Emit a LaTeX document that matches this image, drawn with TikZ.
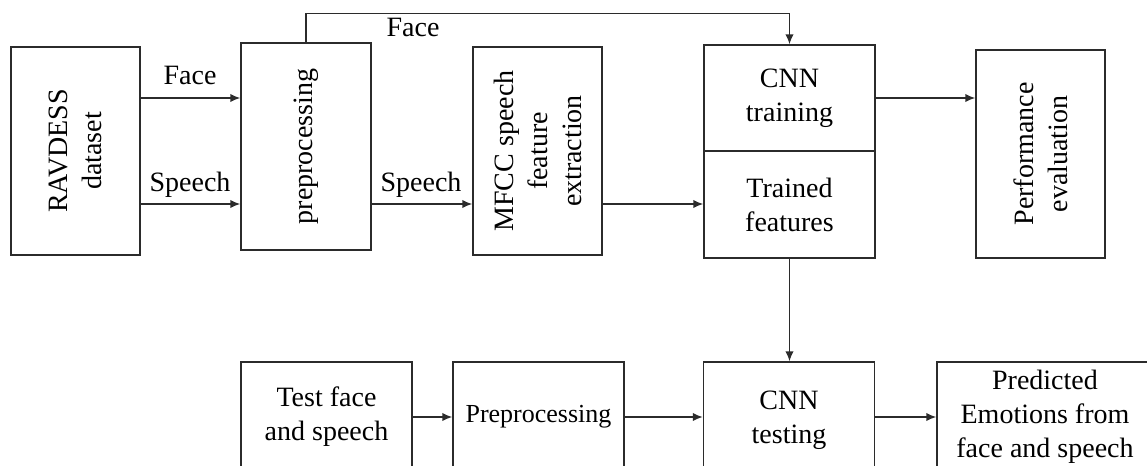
\documentclass[tikz,border=0pt]{standalone}
\usepackage{fontspec}
\setmainfont{Liberation Serif}
\usetikzlibrary{arrows.meta,calc}
\definecolor{ink}{HTML}{2B2B2B}
\tikzset{
  box/.style={draw=ink, line width=0.7pt, inner sep=0pt, fill=white},
  txt/.style={align=center, inner sep=0pt, font=\fontsize{14}{17}\selectfont, text=black},
  lbl/.style={inner sep=0pt, font=\fontsize{14}{17}\selectfont, text=black},
  arr/.style={draw=ink, line width=0.7pt, -{Latex[length=5pt,width=4.2pt]}},
  conn/.style={draw=ink, line width=0.7pt}
}
\begin{document}
\begin{tikzpicture}[x=0.5pt,y=-0.5pt]
\useasboundingbox (0,0) rectangle (1147,466);
\clip (0,0) rectangle (1147,466);
% top row boxes
\node[box, minimum width=64.5pt, minimum height=104pt] (rav) at (75.5,151) {};
\node[txt, rotate=90] (ravt) at (rav) {RAVDESS\\dataset};
\node[box, minimum width=65pt, minimum height=103.5pt] (pre) at (306,146.5) {};
\node[txt, rotate=90] (pret) at (pre) {preprocessing};
\node[box, minimum width=64.5pt, minimum height=104pt] (mfcc) at (537.5,151) {};
\node[txt, rotate=90] (mfcct) at (mfcc) {MFCC speech\\feature\\extraction};
\node[box, minimum width=85.5pt, minimum height=53pt] (cnntr) at (789.5,98) {};
\node[txt] (cnntrt) at (cnntr) {CNN\\training};
\node[box, minimum width=85.5pt, minimum height=53.5pt] (trf) at (789.5,204.5) {};
\node[txt] (trft) at (trf) {Trained\\features};
\node[box, minimum width=64.5pt, minimum height=104pt] (perf) at (1040.5,154) {};
\node[txt, rotate=90] (perft) at (perf) {Performance\\evaluation};
% bottom row boxes
\node[box, minimum width=85.5pt, minimum height=55pt] (test) at (326.5,417) {};
\node[txt] (testt) at (test) {Test face\\and speech};
\node[box, minimum width=85.5pt, minimum height=55pt] (prep) at (538.5,417) {};
\node[txt, font=\fontsize{13}{16}\selectfont] (prept) at (prep) {Preprocessing};
\node[box, minimum width=85.5pt, minimum height=55pt] (cnnte) at (789,417) {};
\node[txt] (cnntet) at (789,420) {CNN\\testing};
\node[box, minimum width=108pt, minimum height=55pt] (pred) at (1045,417) {};
\node[txt] (predt) at (1045,417) {Predicted\\Emotions from\\face and speech};
% helper coordinates
\coordinate (yface) at (0,98);
\coordinate (yspeech) at (0,204);
% connectors
\draw[arr] (rav.east |- yface) -- (pre.west |- yface);
\draw[arr] (rav.east |- yspeech) -- (pre.west |- yspeech);
\node[lbl] (lface1) at (190,75) {Face};
\node[lbl] (lspeech1) at (190,185) {Speech};
\draw[arr] (pre.north) -- ++(0,-29) -| (cnntr.north);
\node[lbl] (lface2) at (413,27) {Face};
\draw[arr] (pre.east |- yspeech) -- (mfcc.west |- yspeech);
\node[lbl] (lspeech2) at (421,185) {Speech};
\draw[arr] (mfcc.east |- yspeech) -- (trf.west |- yspeech);
\draw[arr] (cnntr.east) -- (perf.west |- cnntr.east);
\draw[arr] (trf.south) -- (trf.south |- cnnte.north);
\draw[arr] (test.east) -- (prep.west);
\draw[arr] (prep.east) -- (cnnte.west);
\draw[arr] (cnnte.east) -- (pred.west);
\end{tikzpicture}
\end{document}
